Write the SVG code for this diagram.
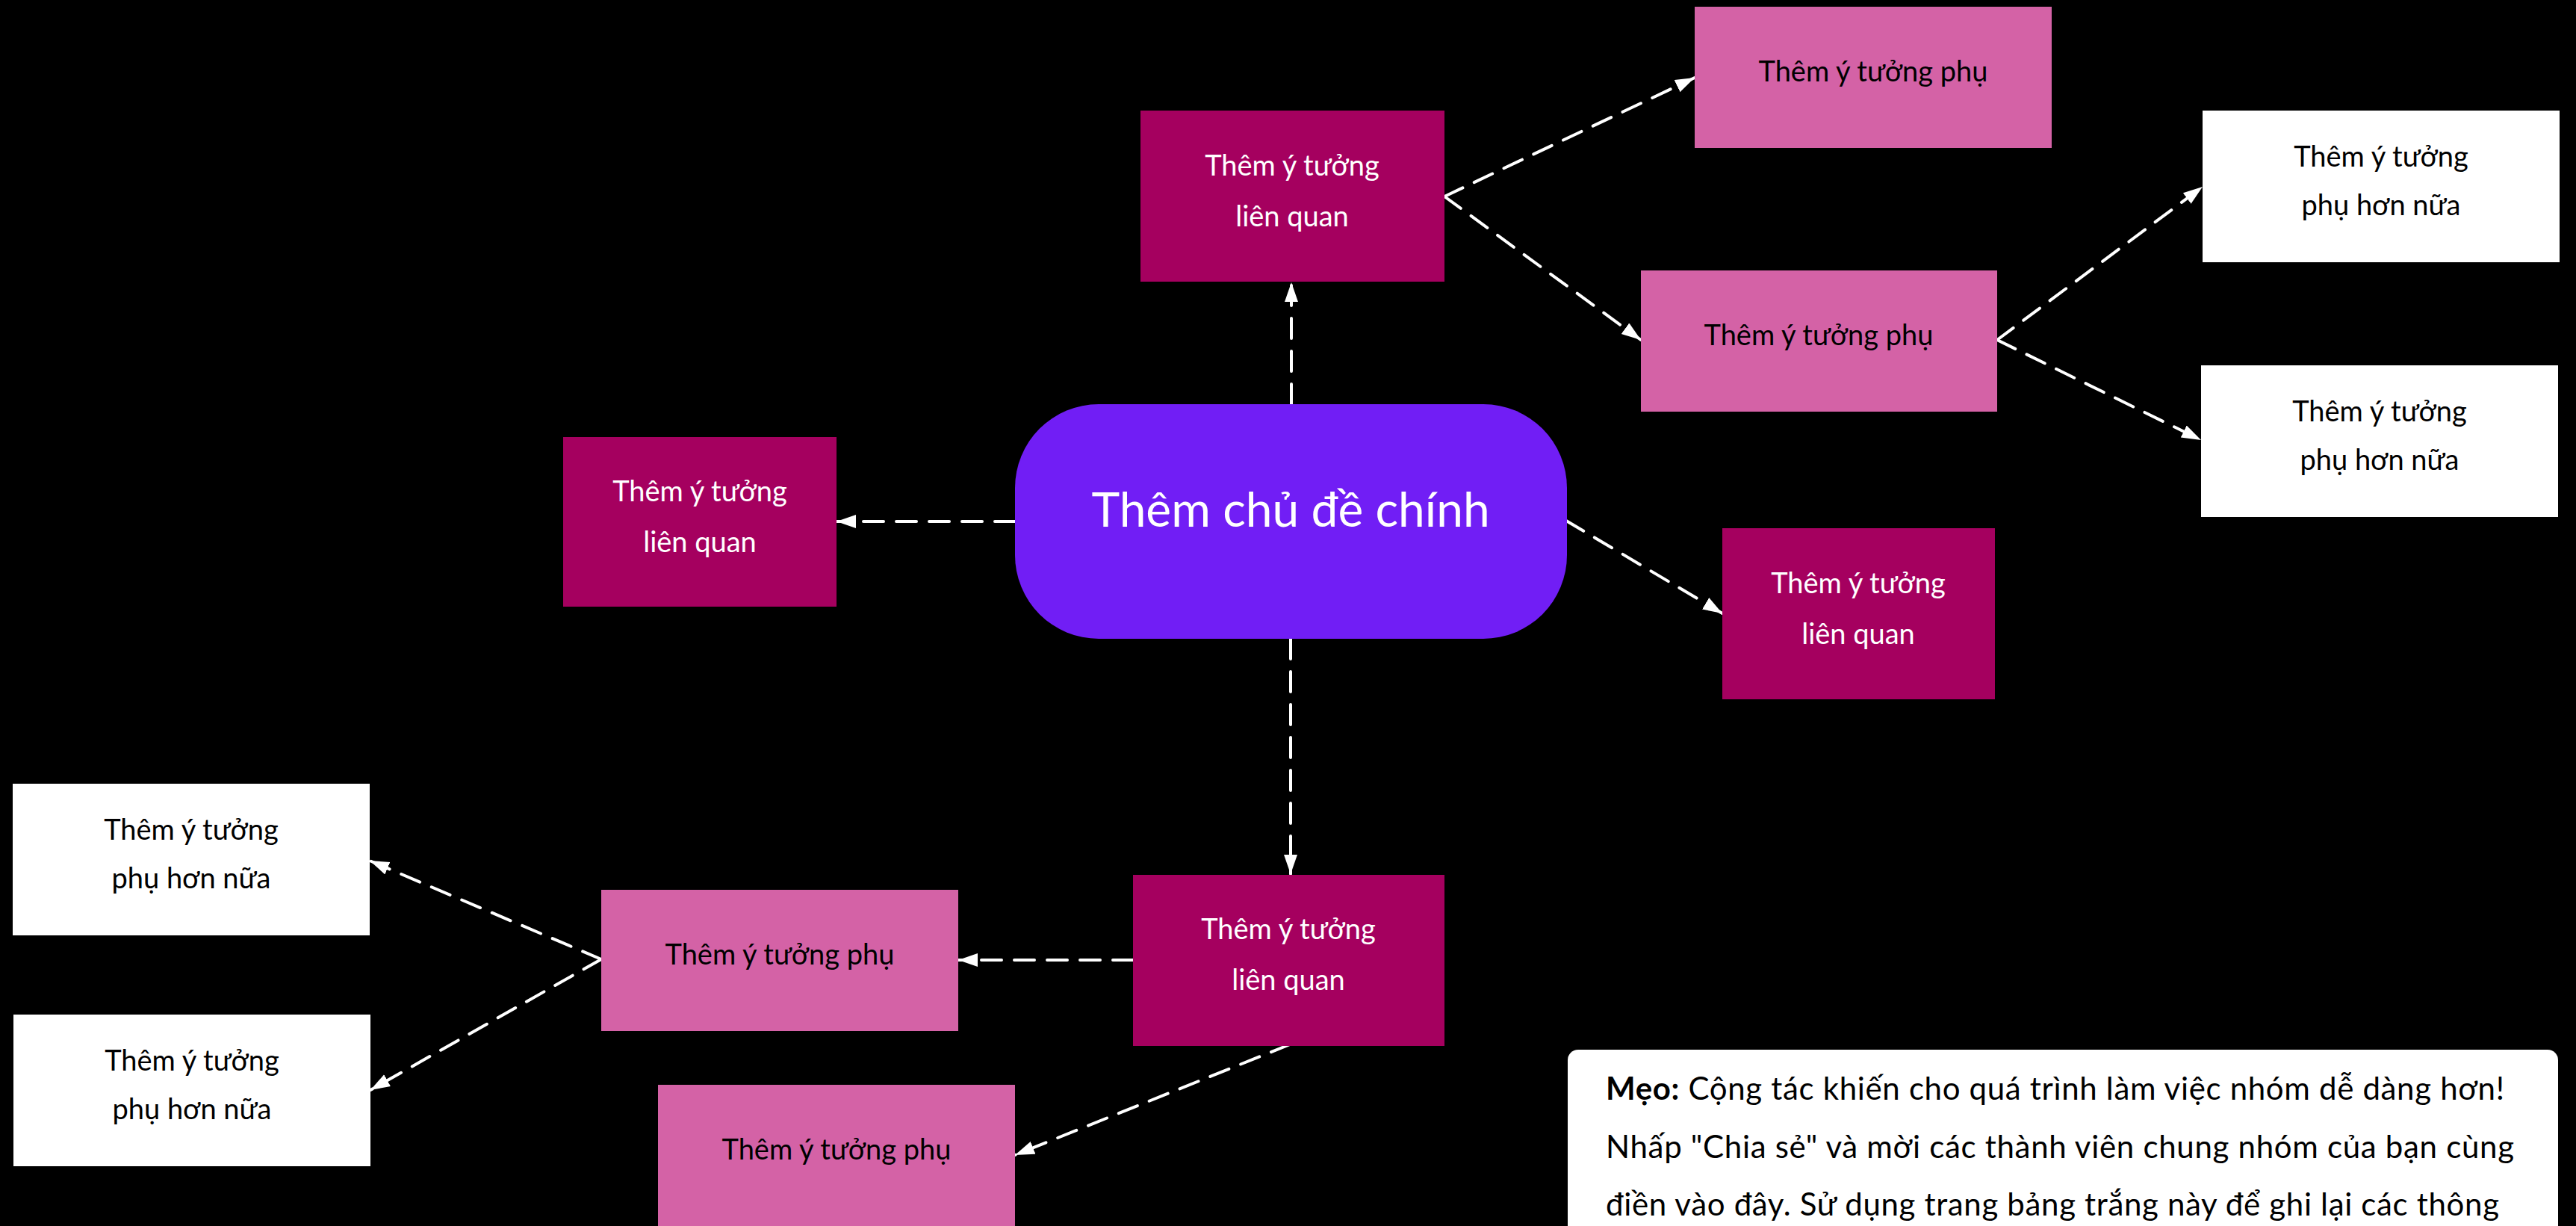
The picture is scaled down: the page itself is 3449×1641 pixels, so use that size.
<svg xmlns="http://www.w3.org/2000/svg" width="3449" height="1641" viewBox="0 0 3449 1641">
<defs>
<marker id="ah" markerUnits="userSpaceOnUse" markerWidth="28" markerHeight="20" refX="26" refY="9" orient="auto">
<path d="M0,0 L26,9 L0,18 z" fill="#ffffff"/>
</marker>
<style>
text{font-family:Lato,"Noto Sans",sans-serif;text-anchor:middle}
.rel{fill:#a5005f}
.sub{fill:#d462a6}
.wht{fill:#ffffff}
.tw{fill:#ffffff;font-size:38px}
.tb{fill:#000000;font-size:38px}
.cn line{stroke:#ffffff;stroke-width:4;stroke-dasharray:27 17;stroke-linecap:round;marker-end:url(#ah)}
.tip{fill:#000000;font-size:42px;text-anchor:start}
</style>
</defs>
<rect width="3449" height="1641" fill="#000000"/>
<g id="connectors" class="cn">
<line x1="1729" y1="541" x2="1729" y2="378"/>
<line x1="1359" y1="698" x2="1120" y2="698"/>
<line x1="2097" y1="697" x2="2306" y2="821"/>
<line x1="1728" y1="855" x2="1728" y2="1170"/>
<line x1="1934" y1="263" x2="2269" y2="104"/>
<line x1="1934" y1="263" x2="2197" y2="455"/>
<line x1="2674" y1="455" x2="2949" y2="250"/>
<line x1="2674" y1="455" x2="2947" y2="589"/>
<line x1="1517" y1="1285" x2="1283" y2="1285"/>
<line x1="1727" y1="1398" x2="1359" y2="1546"/>
<line x1="805" y1="1284" x2="495" y2="1152"/>
<line x1="805" y1="1284" x2="496" y2="1459"/>
</g>
<g id="main">
<rect x="1359" y="541" width="739" height="314" rx="112" ry="112" fill="#711ef5"/>
<text x="1728" y="705" fill="#ffffff" font-size="64">Thêm chủ đề chính</text>
</g>
<g id="rel-top">
<rect class="rel" x="1527" y="148" width="407" height="229"/>
<text class="tw" x="1730" y="235">Thêm ý tưởng</text>
<text class="tw" x="1730" y="303">liên quan</text>
</g>
<g id="rel-left">
<rect class="rel" x="754" y="585" width="366" height="227"/>
<text class="tw" x="937" y="671">Thêm ý tưởng</text>
<text class="tw" x="937" y="739">liên quan</text>
</g>
<g id="rel-right">
<rect class="rel" x="2306" y="707" width="365" height="229"/>
<text class="tw" x="2488" y="794">Thêm ý tưởng</text>
<text class="tw" x="2488" y="862">liên quan</text>
</g>
<g id="rel-bottom">
<rect class="rel" x="1517" y="1171" width="417" height="229"/>
<text class="tw" x="1725" y="1257">Thêm ý tưởng</text>
<text class="tw" x="1725" y="1325">liên quan</text>
</g>
<g id="sub-1">
<rect class="sub" x="2269" y="9" width="478" height="189"/>
<text class="tb" x="2508" y="109">Thêm ý tưởng phụ</text>
</g>
<g id="sub-2">
<rect class="sub" x="2197" y="362" width="477" height="189"/>
<text class="tb" x="2435" y="462">Thêm ý tưởng phụ</text>
</g>
<g id="sub-3">
<rect class="sub" x="805" y="1191" width="478" height="189"/>
<text class="tb" x="1044" y="1291">Thêm ý tưởng phụ</text>
</g>
<g id="sub-4">
<rect class="sub" x="881" y="1452" width="478" height="189"/>
<text class="tb" x="1120" y="1552">Thêm ý tưởng phụ</text>
</g>
<g id="more-1">
<rect class="wht" x="2949" y="148" width="478" height="203"/>
<text class="tb" x="3188" y="223">Thêm ý tưởng</text>
<text class="tb" x="3188" y="288">phụ hơn nữa</text>
</g>
<g id="more-2">
<rect class="wht" x="2947" y="489" width="478" height="203"/>
<text class="tb" x="3186" y="564">Thêm ý tưởng</text>
<text class="tb" x="3186" y="629">phụ hơn nữa</text>
</g>
<g id="more-3">
<rect class="wht" x="17" y="1049" width="478" height="203"/>
<text class="tb" x="256" y="1124">Thêm ý tưởng</text>
<text class="tb" x="256" y="1189">phụ hơn nữa</text>
</g>
<g id="more-4">
<rect class="wht" x="18" y="1358" width="478" height="203"/>
<text class="tb" x="257" y="1433">Thêm ý tưởng</text>
<text class="tb" x="257" y="1498">phụ hơn nữa</text>
</g>
<g id="tip">
<rect x="2099" y="1405" width="1326" height="260" rx="14" ry="14" fill="#ffffff"/>
<text class="tip" x="2150" y="1472" textLength="1203" lengthAdjust="spacing"><tspan font-weight="bold">Mẹo:</tspan> Cộng tác khiến cho quá trình làm việc nhóm dễ dàng hơn!</text>
<text class="tip" x="2150" y="1550" textLength="1216" lengthAdjust="spacing">Nhấp "Chia sẻ" và mời các thành viên chung nhóm của bạn cùng</text>
<text class="tip" x="2150" y="1627" textLength="1196" lengthAdjust="spacing">điền vào đây. Sử dụng trang bảng trắng này để ghi lại các thông</text>
</g>
</svg>
